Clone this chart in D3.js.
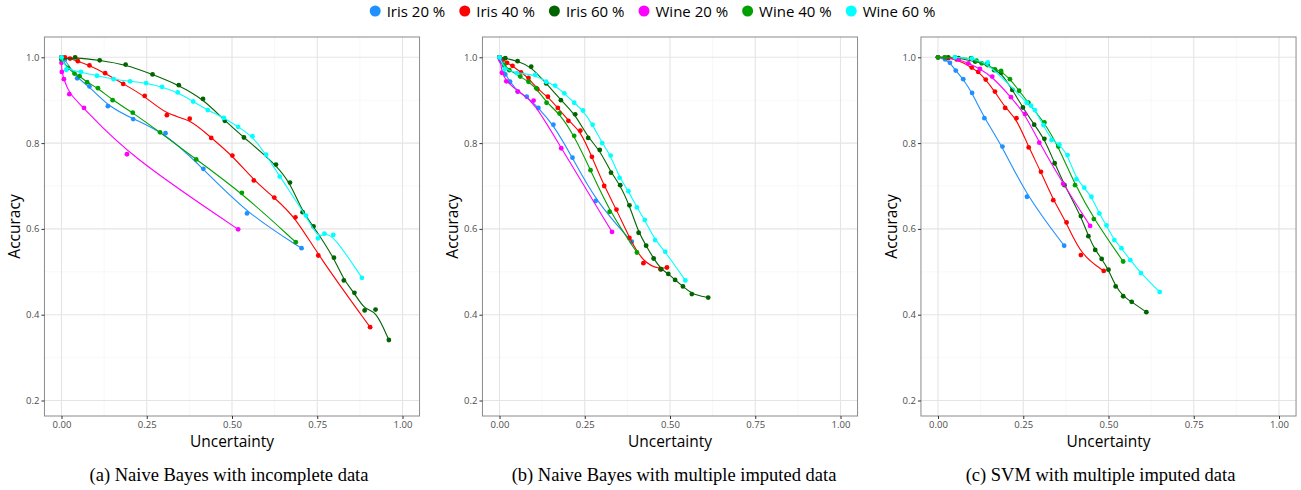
<!DOCTYPE html>
<html><head><meta charset="utf-8">
<script src="https://cdn.jsdelivr.net/npm/d3@7"></script>
<style>body{margin:0;background:#fff}</style>
</head><body><svg id="chart" width="1301" height="490"></svg>
<script>
// ---------- data ----------
const seriesNames = ["Iris 20 %", "Iris 40 %", "Iris 60 %", "Wine 20 %", "Wine 40 %", "Wine 60 %"];
const seriesColors = ["#1E90FF", "#FF0000", "#006400", "#FF00FF", "#00A000", "#00FFFF"];
const xTicks = [0, 0.25, 0.5, 0.75, 1];
const xTickLabels = ["0.00", "0.25", "0.50", "0.75", "1.00"];
const yTicks = [0.2, 0.4, 0.6, 0.8, 1.0];
const yTickLabels = ["0.2", "0.4", "0.6", "0.8", "1.0"];
const captions = ["(a) Naive Bayes with incomplete data", "(b) Naive Bayes with multiple imputed data", "(c) SVM with multiple imputed data"];

// Panel (a): Naive Bayes with incomplete data  [uncertainty, accuracy]
const a_iris20 = [[0,1],[0.01,0.995],[0.046,0.951],[0.082,0.932],[0.136,0.886],[0.210,0.856],[0.305,0.823],[0.416,0.740],[0.544,0.636],[0.704,0.555]];
const a_iris40 = [[0,1],[0.010,1.0],[0.025,0.997],[0.048,0.991],[0.082,0.981],[0.128,0.963],[0.181,0.938],[0.244,0.910],[0.309,0.865],[0.376,0.857],[0.439,0.812],[0.501,0.771],[0.564,0.713],[0.624,0.673],[0.686,0.627],[0.753,0.538],[0.905,0.371]];
const a_iris60 = [[0,0.995],[0.040,1.0],[0.112,0.993],[0.188,0.983],[0.267,0.960],[0.344,0.935],[0.415,0.903],[0.479,0.852],[0.535,0.813],[0.629,0.750],[0.670,0.708],[0.707,0.639],[0.739,0.606],[0.799,0.533],[0.828,0.480],[0.859,0.451],[0.889,0.410],[0.921,0.412],[0.960,0.341]];
const a_wine20 = [[0,1],[0.0,0.987],[0.001,0.966],[0.007,0.949],[0.023,0.914],[0.066,0.882],[0.192,0.774],[0.518,0.599]];
const a_wine40 = [[0,1],[0.001,0.995],[0.019,0.975],[0.038,0.962],[0.053,0.956],[0.075,0.942],[0.107,0.928],[0.150,0.900],[0.209,0.871],[0.289,0.825],[0.395,0.762],[0.529,0.684],[0.687,0.569]];
const a_wine60 = [[0,1],[0.014,0.971],[0.057,0.966],[0.104,0.957],[0.153,0.949],[0.201,0.944],[0.248,0.940],[0.295,0.931],[0.341,0.918],[0.386,0.897],[0.429,0.877],[0.476,0.859],[0.518,0.838],[0.560,0.816],[0.600,0.773],[0.640,0.722],[0.717,0.631],[0.752,0.578],[0.771,0.589],[0.797,0.586],[0.881,0.486]];

// Panel (b): Naive Bayes with multiple imputed data
const b_iris20 = [[0,1],[0.005,0.99],[0.017,0.960],[0.031,0.943],[0.053,0.920],[0.080,0.908],[0.114,0.882],[0.158,0.843],[0.214,0.766],[0.282,0.665],[0.388,0.570]];
const b_iris40 = [[0,1],[0.010,0.995],[0.022,0.987],[0.038,0.980],[0.063,0.965],[0.085,0.952],[0.111,0.926],[0.142,0.908],[0.171,0.882],[0.202,0.852],[0.237,0.829],[0.271,0.768],[0.307,0.700],[0.343,0.645],[0.381,0.579],[0.422,0.520],[0.472,0.506],[0.491,0.510]];
const b_iris60 = [[0,1],[0.017,0.998],[0.053,0.991],[0.093,0.978],[0.137,0.939],[0.180,0.900],[0.222,0.867],[0.260,0.812],[0.294,0.784],[0.327,0.731],[0.354,0.702],[0.381,0.655],[0.408,0.591],[0.430,0.561],[0.452,0.531],[0.474,0.506],[0.495,0.495],[0.515,0.481],[0.538,0.466],[0.564,0.448],[0.612,0.440]];
const b_wine20 = [[0,1],[0.002,0.994],[0.007,0.964],[0.020,0.944],[0.054,0.920],[0.100,0.899],[0.181,0.788],[0.330,0.593]];
const b_wine40 = [[0,1],[0.014,0.982],[0.029,0.970],[0.061,0.955],[0.085,0.943],[0.108,0.928],[0.138,0.894],[0.176,0.869],[0.219,0.817],[0.267,0.737],[0.323,0.640],[0.403,0.545]];
const b_wine60 = [[0,1],[0.015,0.972],[0.051,0.963],[0.105,0.959],[0.137,0.943],[0.163,0.934],[0.190,0.916],[0.219,0.894],[0.245,0.876],[0.273,0.843],[0.301,0.800],[0.326,0.771],[0.352,0.719],[0.378,0.688],[0.403,0.650],[0.426,0.621],[0.456,0.574],[0.486,0.547],[0.545,0.480]];

// Panel (c): SVM with multiple imputed data
const c_iris20 = [[0,1],[0.021,0.995],[0.035,0.987],[0.052,0.969],[0.074,0.949],[0.100,0.917],[0.136,0.858],[0.189,0.792],[0.261,0.675],[0.370,0.561]];
const c_iris40 = [[0,1],[0.030,0.998],[0.055,0.995],[0.099,0.976],[0.118,0.966],[0.140,0.948],[0.167,0.920],[0.197,0.882],[0.230,0.858],[0.266,0.790],[0.302,0.733],[0.338,0.667],[0.377,0.615],[0.419,0.539],[0.486,0.502]];
const c_iris60 = [[0,1],[0.030,1.0],[0.060,0.998],[0.109,0.990],[0.143,0.984],[0.165,0.970],[0.185,0.964],[0.218,0.924],[0.249,0.883],[0.282,0.843],[0.312,0.810],[0.342,0.753],[0.371,0.702],[0.419,0.630],[0.441,0.583],[0.461,0.551],[0.480,0.530],[0.500,0.505],[0.521,0.466],[0.543,0.443],[0.568,0.430],[0.611,0.406]];
const c_wine20 = [[0,1],[0.020,1.0],[0.060,0.995],[0.089,0.986],[0.123,0.973],[0.159,0.955],[0.214,0.907],[0.255,0.868],[0.297,0.801],[0.367,0.705],[0.446,0.607]];
const c_wine40 = [[0,1],[0.020,1.0],[0.050,1.0],[0.097,0.998],[0.113,0.992],[0.128,0.986],[0.146,0.982],[0.167,0.972],[0.185,0.968],[0.211,0.949],[0.238,0.922],[0.265,0.894],[0.312,0.848],[0.353,0.792],[0.402,0.702],[0.457,0.623],[0.543,0.524]];
const c_wine60 = [[0.05,1.0],[0.100,0.997],[0.146,0.988],[0.260,0.894],[0.273,0.887],[0.284,0.877],[0.309,0.842],[0.333,0.807],[0.356,0.797],[0.380,0.772],[0.406,0.716],[0.429,0.696],[0.450,0.675],[0.473,0.636],[0.494,0.608],[0.517,0.574],[0.538,0.555],[0.564,0.527],[0.595,0.497],[0.650,0.453]];

const panelData = [
  [a_iris20, a_iris40, a_iris60, a_wine20, a_wine40, a_wine60],
  [b_iris20, b_iris40, b_iris60, b_wine20, b_wine40, b_wine60],
  [c_iris20, c_iris40, c_iris60, c_wine20, c_wine40, c_wine60]
];

// ---------- layout ----------
const svg = d3.select("#chart");
const font = "'Open Sans', 'Noto Sans', sans-serif";
const panelZero = [61.5, 499.5, 938];   // pixel of uncertainty 0
const captionShift = [-3, 4, -8];
const dataW = 341;
const plotTop = 37, plotBottom = 416;

panelData.forEach((series, pi) => {
  const left = panelZero[pi] - dataW * 0.05;
  const right = panelZero[pi] + dataW * 1.05;
  const x = d3.scaleLinear().domain([-0.05, 1.05]).range([left, right]);
  const y = d3.scaleLinear().domain([0.1639, 1.0473]).range([plotBottom, plotTop]);
  const g = svg.append("g");

  // minor grid
  g.selectAll(".mx").data([0.125, 0.375, 0.625, 0.875]).enter().append("line")
    .attr("x1", d => x(d)).attr("x2", d => x(d)).attr("y1", plotTop).attr("y2", plotBottom)
    .attr("stroke", "#f3f3f3").attr("stroke-width", 0.6);
  g.selectAll(".my").data([0.3, 0.5, 0.7, 0.9]).enter().append("line")
    .attr("x1", left).attr("x2", right).attr("y1", d => y(d)).attr("y2", d => y(d))
    .attr("stroke", "#f3f3f3").attr("stroke-width", 0.6);
  // major grid
  g.selectAll(".Mx").data(xTicks).enter().append("line")
    .attr("x1", d => x(d)).attr("x2", d => x(d)).attr("y1", plotTop).attr("y2", plotBottom)
    .attr("stroke", "#e4e4e4").attr("stroke-width", 1.1);
  g.selectAll(".My").data(yTicks).enter().append("line")
    .attr("x1", left).attr("x2", right).attr("y1", d => y(d)).attr("y2", d => y(d))
    .attr("stroke", "#e4e4e4").attr("stroke-width", 1.1);

  // series
  const line = d3.line().x(d => x(d[0])).y(d => y(d[1])).curve(d3.curveBasis);
  series.forEach((pts, si) => {
    const sorted = pts.slice().sort((p, q) => p[0] - q[0]);
    g.append("path").attr("d", line(sorted)).attr("fill", "none")
      .attr("stroke", seriesColors[si]).attr("stroke-width", 1.1);
    g.selectAll(null).data(pts).enter().append("circle")
      .attr("cx", d => x(d[0])).attr("cy", d => y(d[1])).attr("r", 2.4)
      .attr("fill", seriesColors[si]);
  });

  // border
  g.append("rect").attr("x", left).attr("y", plotTop).attr("width", right - left)
    .attr("height", plotBottom - plotTop).attr("fill", "none").attr("stroke", "#8a8a8a").attr("stroke-width", 1);

  // axes
  const xAxis = d3.axisBottom(x).tickValues(xTicks).tickFormat((d, i) => xTickLabels[i]).tickSize(3).tickPadding(2);
  const ax = g.append("g").attr("transform", `translate(0,${plotBottom})`).call(xAxis);
  const yAxis = d3.axisLeft(y).tickValues(yTicks).tickFormat((d, i) => yTickLabels[i]).tickSize(3).tickPadding(2);
  const ay = g.append("g").attr("transform", `translate(${left},0)`).call(yAxis);
  [ax, ay].forEach(a => {
    a.select(".domain").remove();
    a.selectAll(".tick line").attr("stroke", "#333");
    a.selectAll("text").attr("font-family", font).attr("font-size", 9.5).attr("fill", "#4d4d4d");
  });

  // axis titles
  const cx = (left + right) / 2;
  g.append("text").attr("x", cx).attr("y", 447).attr("text-anchor", "middle")
    .attr("font-family", font).attr("font-size", 15.5).attr("fill", "#000").text("Uncertainty");
  g.append("text").attr("transform", `translate(${left - 24},${(plotTop + plotBottom) / 2}) rotate(-90)`)
    .attr("text-anchor", "middle").attr("font-family", font).attr("font-size", 15.5).attr("fill", "#000").text("Accuracy");

  // caption
  g.append("text").attr("x", cx + captionShift[pi]).attr("y", 481).attr("text-anchor", "middle")
    .attr("font-family", "'Liberation Serif', 'Times New Roman', serif").attr("font-size", 18.5).attr("fill", "#000")
    .text(captions[pi]);
});

// ---------- legend ----------
const leg = svg.append("g");
let lx = 0;
seriesNames.forEach((name, i) => {
  const it = leg.append("g");
  it.append("circle").attr("cx", lx + 5.5).attr("cy", 11).attr("r", 5.5).attr("fill", seriesColors[i]);
  const t = it.append("text").attr("x", lx + 17).attr("y", 16.5).attr("font-family", font)
    .attr("font-size", 15).attr("fill", "#000").text(name);
  lx = lx + 17 + t.node().getComputedTextLength() + 14;
});
const legW = lx - 14;
leg.attr("transform", `translate(${(373 + 932) / 2 - legW / 2},0)`);
</script></body></html>
